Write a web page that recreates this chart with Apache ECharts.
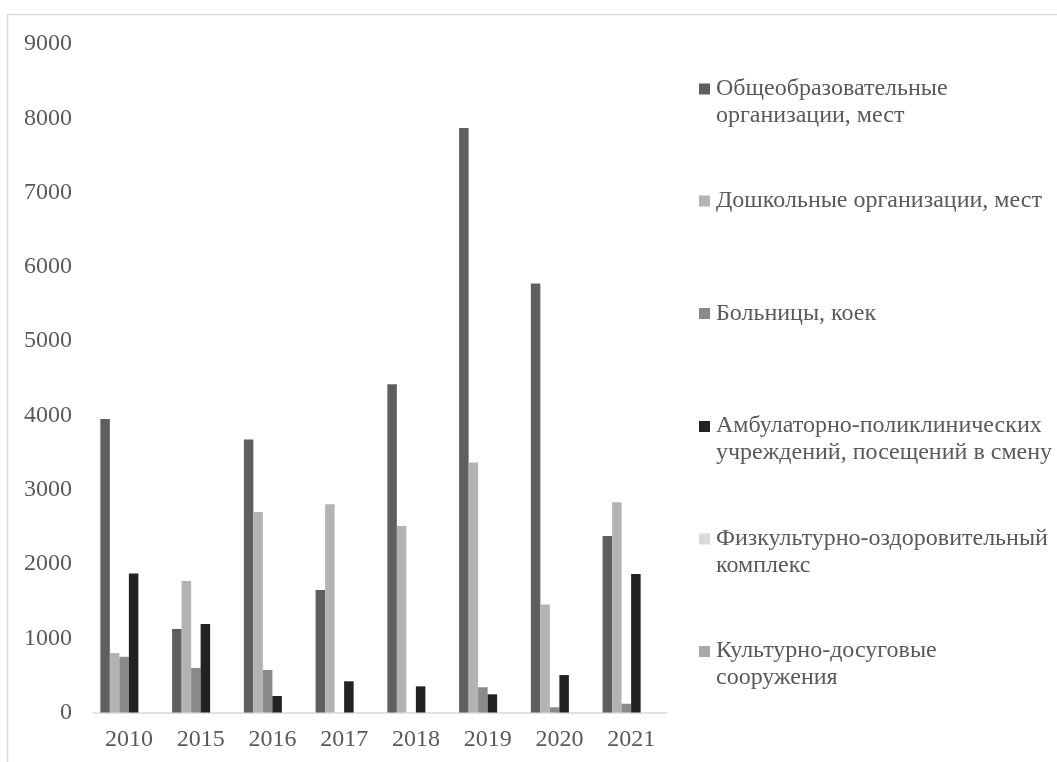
<!DOCTYPE html>
<html lang="ru">
<head>
<meta charset="utf-8">
<title>Ввод объектов социальной инфраструктуры</title>
<script src="https://cdn.jsdelivr.net/npm/echarts@6/dist/echarts.min.js"></script>
<style>
  html, body { margin: 0; padding: 0; background: #ffffff; }
  #chart { width: 1057px; height: 762px; }
</style>
</head>
<body>
<div id="chart"></div>
<script>
// Годы ввода
const years = ['2010', '2015', '2016', '2017', '2018', '2019', '2020', '2021'];

// Ввод объектов по видам
const schools      = [3950, 1125, 3675, 1650, 4420, 7870, 5775, 2375];
const preschools   = [800, 1770, 2700, 2805, 2510, 3365, 1455, 2830];
const hospitals    = [750, 600, 572, null, null, 340, 70, 118];
const clinics      = [1870, 1190, 222, 420, 352, 245, 504, 1863];
const sportsCenter = [null, null, null, null, null, null, null, null];
const culture      = [null, null, null, null, null, null, null, null];

// Подписи оси значений
const yTicks = [0, 1000, 2000, 3000, 4000, 5000, 6000, 7000, 8000, 9000];

const seriesNames = [
  'Общеобразовательные\nорганизации, мест',
  'Дошкольные организации, мест',
  'Больницы, коек',
  'Амбулаторно-поликлинических\nучреждений, посещений в смену',
  'Физкультурно-оздоровительный\nкомплекс',
  'Культурно-досуговые\nсооружения'
];
const seriesData = [schools, preschools, hospitals, clinics, sportsCenter, culture];
const seriesColors = ['#5f5f5f', '#b3b3b3', '#8a8a8a', '#222222', '#d9d9d9', '#a8a8a8'];

const FONT = '"Liberation Serif", "DejaVu Serif", serif';
const TEXT_COLOR = '#595959';
const LINE_H = 27;

// Square marker for one-line entries; for two-line entries the square
// sits at the top of a taller box so it lines up with the first line.
const squareIcon = 'rect';
const topSquareIcon = 'path://M0,0h11v11h-11z M0,37h0.01v0.01h-0.01z';

const legendTops = [88.5, 201, 313.5, 426, 538.5, 651];

const legends = seriesNames.map((name, i) => {
  const twoLines = name.indexOf('\n') >= 0;
  return {
    left: 699,
    top: legendTops[i] - LINE_H / 2,
    padding: 0,
    orient: 'vertical',
    selectedMode: false,
    itemWidth: 11,
    itemHeight: twoLines ? 37 : 11,
    itemGap: 0,
    data: [{ name: name, icon: twoLines ? topSquareIcon : squareIcon }],
    textStyle: {
      fontFamily: FONT,
      fontSize: 24,
      color: TEXT_COLOR,
      lineHeight: LINE_H,
      padding: [0, 0, 0, 1]
    }
  };
});

const chart = echarts.init(document.getElementById('chart'), null, { renderer: 'canvas' });

chart.setOption({
  backgroundColor: '#ffffff',
  animation: false,
  graphic: [{
    type: 'rect',
    shape: { x: 7.5, y: 14.5, width: 1100, height: 800 },
    style: { fill: null, stroke: '#d9d9d9', lineWidth: 1.5 },
    silent: true
  }],
  legend: legends,
  grid: { left: 93, right: 390, top: 44, bottom: 49.5, containLabel: false },
  xAxis: {
    type: 'category',
    data: years,
    axisLine: { lineStyle: { color: '#d9d9d9', width: 1.5 } },
    axisTick: { show: false },
    axisLabel: { fontFamily: FONT, fontSize: 24, color: TEXT_COLOR, margin: 15 }
  },
  yAxis: {
    type: 'value',
    min: yTicks[0],
    max: yTicks[yTicks.length - 1],
    interval: yTicks[1] - yTicks[0],
    axisLine: { show: false },
    axisTick: { show: false },
    splitLine: { show: false },
    axisLabel: {
      fontFamily: FONT, fontSize: 24, color: TEXT_COLOR, margin: 21,
      formatter: (v) => String(v)
    }
  },
  series: seriesNames.map((name, i) => ({
    name: name,
    type: 'bar',
    data: seriesData[i],
    barGap: '0%',
    barCategoryGap: '20.5%',
    itemStyle: { color: seriesColors[i] }
  }))
});
</script>
</body>
</html>
